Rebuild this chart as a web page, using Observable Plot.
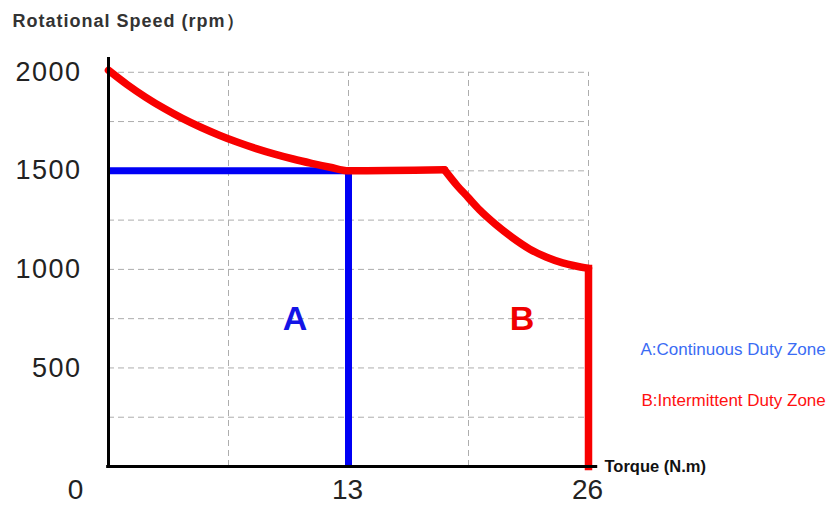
<!DOCTYPE html>
<html><head><meta charset="utf-8">
<script src="https://cdn.jsdelivr.net/npm/d3@7"></script>
<script src="https://cdn.jsdelivr.net/npm/@observablehq/plot@0.6"></script>
<style>
body{margin:0;background:#fff;}
#chart svg{display:block;}
.ylab text{letter-spacing:1.5px;}
.ttl text{letter-spacing:1px;}
</style></head><body><div id="chart"></div>
<script>
// Tick labels and grid
const torqueTicks = [0, 13, 26];
const speedTicks = [500, 1000, 1500, 2000];
const gridTorque = [6.5, 13, 19.5, 26];
const gridSpeed = [250, 500, 750, 1000, 1250, 1500, 1750, 2000];

// Red curve (intermittent duty boundary)
const peakTorque = [0, 1, 2, 3, 4, 5, 6, 7, 8, 9, 10, 11, 12, 13, 18.2];
const peakSpeed  = [2010, 1938, 1874, 1817, 1766, 1721, 1681, 1645, 1613, 1585, 1560, 1538, 1518, 1500, 1505];
const fallTorque = [18.2, 18.85, 19.5, 20.1, 21.0, 21.9, 22.8, 23.7, 24.6, 26];
const fallSpeed  = [1505, 1429, 1363, 1302, 1226, 1160, 1104, 1063, 1033, 1005];
const edgeTorque = [26, 26];
const edgeSpeed  = [1005, 0];

// Blue (continuous duty boundary)
const contTorque = [0, 13, 13];
const contSpeed  = [1500, 1500, 0];

// Zone labels
const zoneLabels = ["A", "B"];
const zoneTorque = [10.1, 22.4];
const zoneSpeed  = [750, 750];
const legendTexts = ["A:Continuous Duty Zone", "B:Intermittent Duty Zone"];
const titleText = "Rotational Speed (rpm）";
const xTitle = "Torque (N.m)";

const pts = (xs, ys) => xs.map((x, i) => ({x, y: ys[i]}));
const font = "'Liberation Sans', Arial, sans-serif";

const chart = Plot.plot({
  width: 832, height: 505,
  marginTop: 57, marginRight: 244, marginBottom: 39, marginLeft: 108,
  x: {domain: [0, 26], axis: null},
  y: {domain: [0, 2075], axis: null},
  style: {background: "#fff", fontFamily: font},
  marks: [
    Plot.ruleY(gridSpeed, {x1: 0, x2: 26, stroke: "#adadad", strokeWidth: 1, strokeDasharray: "6,4"}),
    Plot.ruleX(gridTorque, {y1: 0, y2: 2000, stroke: "#adadad", strokeWidth: 1, strokeDasharray: "6,4"}),
    Plot.line(pts(contTorque, contSpeed), {x: "x", y: "y", stroke: "#0000f5", strokeWidth: 7, strokeLinejoin: "miter", strokeLinecap: "butt"}),
    Plot.line(pts(peakTorque, peakSpeed), {x: "x", y: "y", stroke: "#f80000", strokeWidth: 7.5, curve: "monotone-x", strokeLinecap: "round"}),
    Plot.line(pts(fallTorque, fallSpeed), {x: "x", y: "y", stroke: "#f80000", strokeWidth: 7.5, curve: "monotone-x", strokeLinecap: "round"}),
    Plot.line(pts(edgeTorque, edgeSpeed), {x: "x", y: "y", stroke: "#f80000", strokeWidth: 7.5, strokeLinecap: "square"}),
    Plot.ruleX([0], {y1: 0, y2: 2075, stroke: "#000", strokeWidth: 3}),
    Plot.ruleY([0], {x1: -0.1, x2: 26.5, stroke: "#000", strokeWidth: 3}),
    Plot.text(speedTicks, {x: 0, y: d => d, text: d => String(d), textAnchor: "end", lineAnchor: "middle", dx: -27, fontSize: 27, fill: "#222", className: "ylab"}),
    Plot.text(torqueTicks.filter(d => d === 0), {x: d => d, y: 0, text: d => String(d), textAnchor: "middle", lineAnchor: "top", dx: -33, dy: 13, fontSize: 28, fill: "#222"}),
    Plot.text(torqueTicks.filter(d => d !== 0), {x: d => d, y: 0, text: d => String(d), textAnchor: "middle", lineAnchor: "top", dx: -1, dy: 13, fontSize: 28, fill: "#222"}),
    Plot.text([xTitle], {x: 26, y: 0, text: d => d, textAnchor: "start", lineAnchor: "middle", dx: 16, fontSize: 16.5, fontWeight: "bold", fill: "#111"}),
    Plot.text([titleText], {frameAnchor: "top-left", text: d => d, textAnchor: "start", lineAnchor: "middle", dx: -96, dy: -36, fontSize: 18, fontWeight: "bold", fill: "#333", className: "ttl"}),
    Plot.text(zoneLabels.map((t, i) => ({t, x: zoneTorque[i], y: zoneSpeed[i]})), {x: "x", y: "y", text: "t", fontSize: 34, fontWeight: "bold", fill: (d, i) => i === 0 ? "#1414e6" : "#f00000", lineAnchor: "middle"}),
    Plot.text([legendTexts[0]], {frameAnchor: "right", text: d => d, textAnchor: "start", lineAnchor: "middle", dx: 52, dy: 88, fontSize: 17, fill: "#3a6cf4"}),
    Plot.text([legendTexts[1]], {frameAnchor: "right", text: d => d, textAnchor: "start", lineAnchor: "middle", dx: 53, dy: 139, fontSize: 17, fill: "#ff1010"})
  ]
});
document.getElementById("chart").appendChild(chart);
</script></body></html>
